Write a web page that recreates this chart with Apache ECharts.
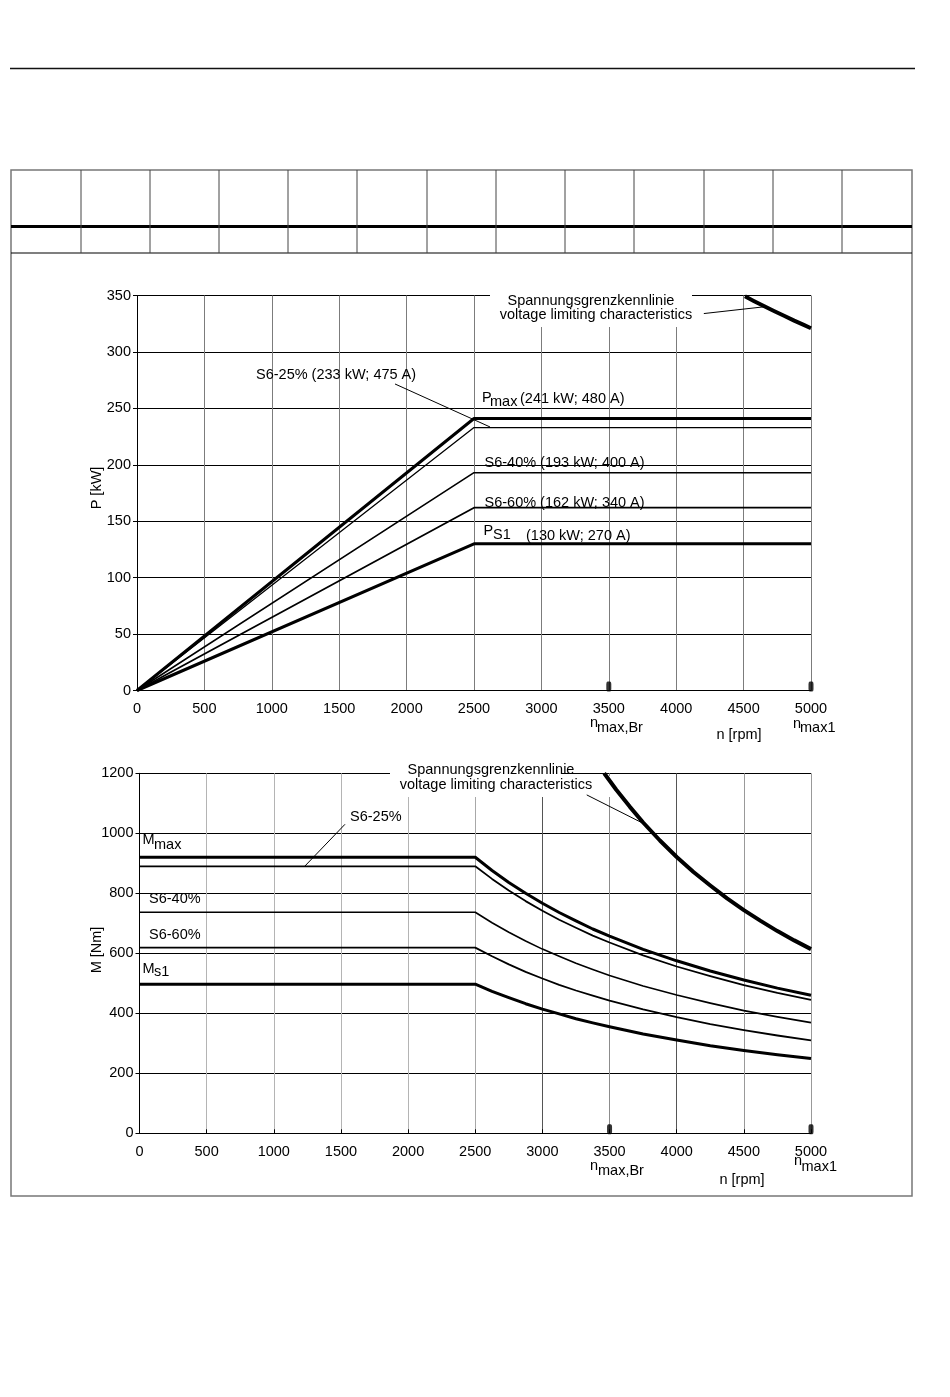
<!DOCTYPE html>
<html><head><meta charset="utf-8">
<script src="https://cdn.jsdelivr.net/npm/echarts@6/dist/echarts.min.js"></script>
<style>html,body{margin:0;padding:0;background:#fff}#c{width:950px;height:1397px}</style>
</head><body><div id="c"></div>
<script>
// ---- data ----
const xTickLabels = ['0','500','1000','1500','2000','2500','3000','3500','4000','4500','5000'];
const powerSpeeds = [0, 2500, 5000];
const pMax   = [0, 241, 241];
const pS6_25 = [0, 233, 233];
const pS6_40 = [0, 193, 193];
const pS6_60 = [0, 162, 162];
const pS1    = [0, 130, 130];
const voltSpeedsP = [4510, 4575, 4650, 4725, 4800, 4875, 4950, 5000];
const voltP       = [349.3, 345.2, 340.7, 336.3, 332.0, 327.7, 323.7, 321.0];

const torqueSpeeds = [0, 2500, 2625, 2750, 2875, 3000, 3125, 3250, 3375, 3500, 3750, 4000, 4250, 4500, 4750, 5000];
const mMax   = [920, 920, 876, 836, 800, 767, 736, 708, 681, 657, 613, 575, 541, 511, 484, 460];
const mS6_25 = [890, 890, 848, 809, 774, 742, 712, 685, 659, 636, 593, 556, 524, 494, 468, 445];
const mS6_40 = [737, 737, 702, 670, 641, 614, 590, 567, 546, 526, 491, 461, 434, 409, 388, 369];
const mS6_60 = [619, 619, 590, 563, 538, 516, 495, 476, 459, 442, 413, 387, 364, 344, 326, 310];
const mS1    = [497, 497, 473, 452, 432, 414, 398, 382, 368, 355, 331, 311, 292, 276, 262, 249];
const voltSpeedsM = [3460, 3550, 3650, 3750, 3875, 4000, 4125, 4250, 4375, 4500, 4625, 4750, 4875, 5000];
const voltM       = [1200, 1145, 1089, 1036, 976, 921, 871, 826, 783, 744, 708, 674, 643, 614];
const markerSpeeds = [3500, 5000];

// ---- helpers ----
const FONT = 'Liberation Sans, Arial, sans-serif';
const FS = 14.5;
const pairs = (xs, ys) => xs.map((x, i) => [x, ys[i]]);
function line(name, xi, xs, ys, width, extra) {
  return Object.assign({
    name, type: 'line', xAxisIndex: xi, yAxisIndex: xi, data: pairs(xs, ys),
    symbol: 'none', smooth: false, animation: false, silent: true,
    lineStyle: { color: '#000', width: width, join: 'round' }, z: 3
  }, extra || {});
}
function leader(xi, a, b) {
  return {
    type: 'line', xAxisIndex: xi, yAxisIndex: xi, data: [], silent: true, animation: false,
    markLine: { symbol: 'none', silent: true, animation: false, label: { show: false },
      lineStyle: { color: '#000', width: 1, type: 'solid' },
      data: [[{ coord: a }, { coord: b }]] }
  };
}
function txt(text, x, y, opts) {
  opts = opts || {};
  return { type: 'text', x: x, y: y, z: 10, rotation: opts.rot || 0,
    style: { text: text, fill: '#000', fontSize: opts.fs || FS, fontFamily: FONT,
      align: opts.align || 'left', verticalAlign: 'middle' } };
}
function hline(x1, x2, y, w, c) {
  return { type: 'line', z: 10, shape: { x1: x1, y1: y, x2: x2, y2: y }, style: { stroke: c || '#000', lineWidth: w } };
}
function vline(x, y1, y2, w, c) {
  return { type: 'line', z: 10, shape: { x1: x, y1: y1, x2: x, y2: y2 }, style: { stroke: c || '#000', lineWidth: w } };
}
function whiteRect(x, y, w, h) {
  return { type: 'rect', z: 1, shape: { x: x, y: y, width: w, height: h }, style: { fill: '#fff' } };
}

function xAxisCfg(gi, ticksInside, splitColors) {
  return {
    type: 'value', gridIndex: gi, min: 0, max: 5000, interval: 500,
    axisLine: { show: true, onZero: false, lineStyle: { color: '#000', width: 1 } },
    axisTick: { show: ticksInside, inside: true, length: 4, lineStyle: { color: '#000' } },
    axisLabel: { color: '#000', fontSize: FS, fontFamily: FONT, margin: 11,
      formatter: v => xTickLabels[Math.round(v / 500)] },
    splitLine: { show: true, lineStyle: { color: splitColors, width: 1 } }
  };
}
function yAxisCfg(gi, max, interval) {
  return {
    type: 'value', gridIndex: gi, min: 0, max: max, interval: interval,
    axisLine: { show: true, lineStyle: { color: '#000', width: 1 } },
    axisTick: { show: true, length: 4, lineStyle: { color: '#000' } },
    axisLabel: { color: '#000', fontSize: FS, fontFamily: FONT, margin: 6, formatter: v => String(v) },
    splitLine: { show: true, lineStyle: { color: '#000', width: 1 } }
  };
}

const chart = echarts.init(document.getElementById('c'), null, { renderer: 'canvas' });

const colCuts = [81, 150, 219, 288, 357, 427, 496, 565, 634, 704, 773, 842];
const graphics = [
  hline(10, 915, 68.5, 1.5, '#111'),
  { type: 'rect', z: 10, shape: { x: 11, y: 170, width: 901, height: 1026 }, style: { fill: null, stroke: '#777', lineWidth: 1.5 } },
  hline(11, 912, 226.5, 3, '#000'),
  hline(11, 912, 253, 1.2, '#000'),
  ...colCuts.map(x => vline(x, 170, 253, 1, '#444')),

  // chart 1 annotations
  whiteRect(490, 288, 202, 39),
  txt('Spannungsgrenzkennlinie', 591, 301, { align: 'center' }),
  txt('voltage limiting characteristics', 596, 315, { align: 'center' }),
  txt('S6-25% (233 kW; 475 A)', 256, 375),
  txt('P', 482, 398),
  txt('max', 490, 402),
  txt('(241 kW; 480 A)', 520, 398.5),
  txt('S6-40% (193 kW; 400 A)', 484.5, 463),
  txt('S6-60% (162 kW; 340 A)', 484.5, 503),
  txt('P', 483.5, 531),
  txt('S1', 493, 534.5),
  txt('(130 kW; 270 A)', 526, 535.5),
  txt('P [kW]', 97, 488, { align: 'center', rot: Math.PI / 2 }),
  txt('n', 590, 723),
  txt('max,Br', 597, 728),
  txt('n [rpm]', 739, 735, { align: 'center' }),
  txt('n', 793, 724),
  txt('max1', 800, 728),

  // chart 2 annotations
  whiteRect(390, 764, 172, 33),
  whiteRect(562, 776, 53, 21),
  txt('Spannungsgrenzkennlinie', 491, 770, { align: 'center' }),
  txt('voltage limiting characteristics', 496, 785, { align: 'center' }),
  txt('S6-25%', 350, 817),
  txt('M', 142.5, 840),
  txt('max', 154, 844.5),
  txt('S6-40%', 149, 899),
  txt('S6-60%', 149, 935),
  txt('M', 142.5, 968.5),
  txt('s1', 154, 972),
  txt('M [Nm]', 97, 950, { align: 'center', rot: Math.PI / 2 }),
  txt('n', 590, 1166),
  txt('max,Br', 598, 1171),
  txt('n [rpm]', 742, 1180, { align: 'center' }),
  txt('n', 794, 1161),
  txt('max1', 801.5, 1166.5)
];

const split1 = '#7c7c7c';
const split2 = ['#000', '#b4b4b4', '#b4b4b4', '#b4b4b4', '#b4b4b4', '#a8a8a8', '#555', '#8c8c8c', '#555', '#999', '#999'];

const markerSeries = (xi) => ({
  type: 'scatter', xAxisIndex: xi, yAxisIndex: xi, silent: true, animation: false, z: 4,
  data: markerSpeeds.map(s => [s, 0]),
  symbol: 'roundRect', symbolSize: [5, 10], symbolOffset: [0, -4],
  itemStyle: { color: '#000' }
});

chart.setOption({
  animation: false,
  backgroundColor: '#fff',
  grid: [
    { left: 137, right: 139, top: 295.5, bottom: 1397 - 690.5, containLabel: false },
    { left: 139.5, right: 139, top: 773.3, bottom: 1397 - 1133.3, containLabel: false }
  ],
  xAxis: [xAxisCfg(0, false, split1), xAxisCfg(1, true, split2)],
  yAxis: [yAxisCfg(0, 350, 50), yAxisCfg(1, 1200, 200)],
  graphic: graphics,
  series: [
    line('Pmax', 0, powerSpeeds, pMax, 3),
    line('S6-25%', 0, powerSpeeds, pS6_25, 1.3),
    line('S6-40%', 0, powerSpeeds, pS6_40, 1.6),
    line('S6-60%', 0, powerSpeeds, pS6_60, 1.8),
    line('PS1', 0, powerSpeeds, pS1, 3),
    line('Voltage P', 0, voltSpeedsP, voltP, 4),
    markerSeries(0),
    leader(0, [1914, 271.6], [2619, 233.5]),
    leader(0, [4205, 334], [4653, 340]),

    line('Mmax', 1, torqueSpeeds, mMax, 3),
    line('M S6-25%', 1, torqueSpeeds, mS6_25, 1.8),
    line('M S6-40%', 1, torqueSpeeds, mS6_40, 1.6),
    line('M S6-60%', 1, torqueSpeeds, mS6_60, 1.8),
    line('Ms1', 1, torqueSpeeds, mS1, 3),
    line('Voltage M', 1, voltSpeedsM, voltM, 4),
    markerSeries(1),
    leader(1, [1530, 1030], [1232, 891]),
    leader(1, [3330, 1128], [3751, 1033])
  ]
});
</script>
</body></html>
